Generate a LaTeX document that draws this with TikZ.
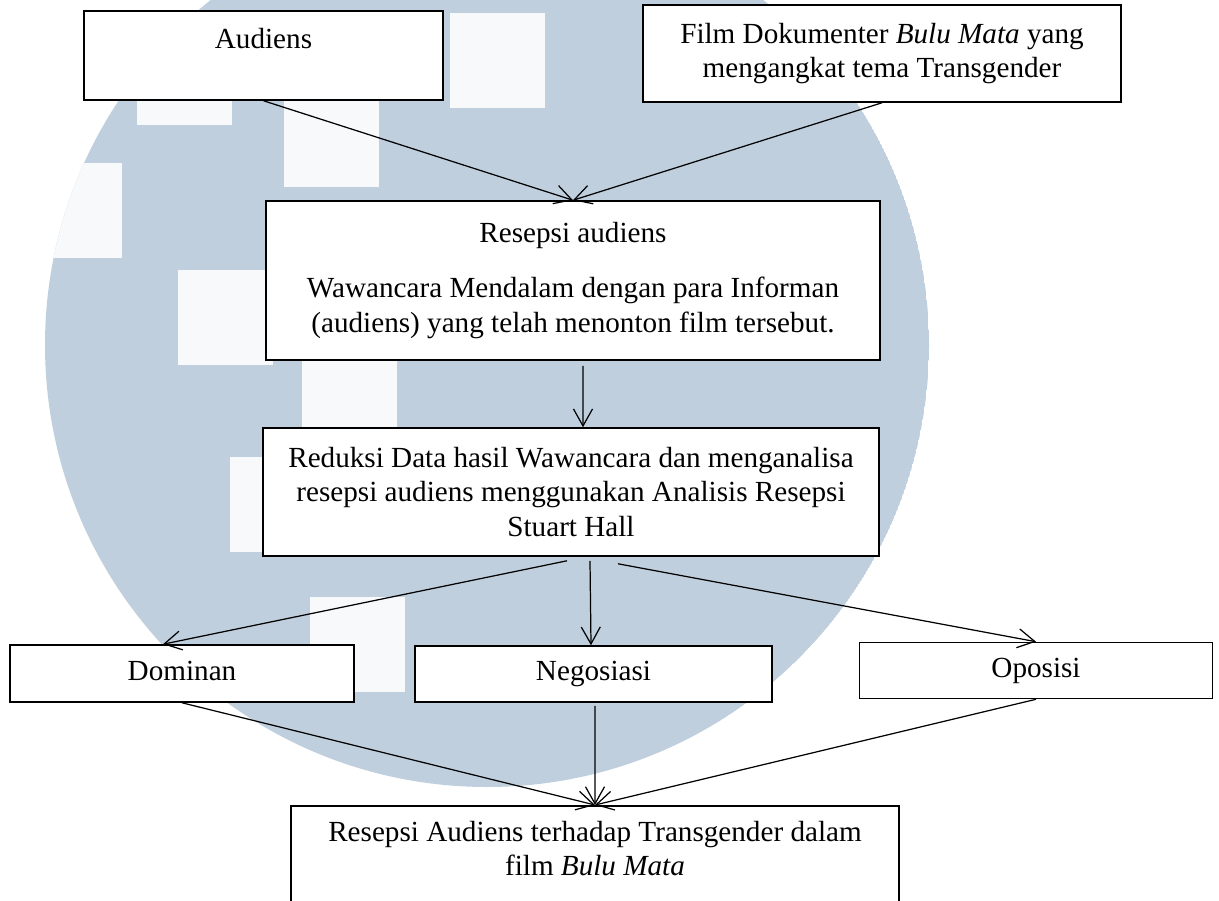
\documentclass[tikz,border=0pt]{standalone}
\usepackage{fontspec}
\setmainfont{Liberation Serif}
\usetikzlibrary{shapes, arrows.meta}
\definecolor{wmblue}{RGB}{192,207,221}
\definecolor{wmwhite}{RGB}{247,249,251}

\begin{document}
\begin{tikzpicture}[x=0.02cm, y=-0.02cm,
        box/.style = {draw, fill=white, line width=0.9pt, align=center, inner sep=0pt, font=\fontsize{16.6}{19.6}\selectfont},
        arr/.style = {-{Straight Barb[length=0.34cm, width=0.38cm]}, line width=0.7pt}]
                \useasboundingbox (0, 0) rectangle (1219, 901);
                \clip (0, 0) rectangle (1219, 901);
                \fill[white] (0, 0) rectangle (1219, 901);
                \begin{scope}
                    \clip (487, 345) circle [radius=442];
                    \fill[wmblue] (487, 345) circle [radius=442];
                    \foreach \x/\y in {27/163, 137/30, 284/92, 450/13, 178/270, 302/335, 230/457, 310/597}
                        \fill[wmwhite] (\x, \y) rectangle ++(95, 95);
                \end{scope}

                \node[box, minimum width=7.18cm, minimum height=1.78cm] at (263.5, 55.5) (aud) {Audiens\\ ~};
                \node[box, minimum width=9.56cm, minimum height=1.94cm] at (882, 53.5) (film) {Film Dokumenter \textit{Bulu Mata} yang\\ mengangkat tema Transgender};
                \node[box, minimum width=12.28cm, minimum height=3.18cm] at (573, 280.5) (res) {Resepsi audiens\\[0.41cm] Wawancara Mendalam dengan para Informan\\ (audiens) yang telah menonton film tersebut.};
                \node[box, minimum width=12.32cm, minimum height=2.56cm] at (571, 492) (red) {Reduksi Data hasil Wawancara dan menganalisa\\ resepsi audiens menggunakan Analisis Resepsi\\ Stuart Hall};
                \node[box, minimum width=6.88cm, minimum height=1.14cm] at (182, 673.5) (dom) {\strut Dominan};
                \node[box, minimum width=7.14cm, minimum height=1.12cm] at (593.5, 674) (neg) {\strut Negosiasi};
                \node[box, minimum width=7.06cm, minimum height=1.12cm] at (1036, 670.5) (opo) {\strut Oposisi};
                \node[box, minimum width=12.16cm, anchor=north, inner ysep=0.3cm, text depth=1.8cm] at (595, 805) (hasil) {Resepsi Audiens terhadap Transgender dalam\\ film \textit{Bulu Mata}};

                \draw[arr] (aud.south) -- (res.north);
                \draw[arr] (film.south) -- (res.north);
                \draw[arr] ([xshift=0.2cm, yshift=-0.1cm]res.south) -- ([xshift=0.24cm]red.north);

                \draw[arr] ([xshift=-0.08cm, yshift=-0.08cm]red.south) -- ([xshift=-0.38cm]dom.north);
                \draw[arr] ([xshift=0.38cm, yshift=-0.08cm]red.south) -- ([xshift=-0.05cm]neg.north);
                \draw[arr] ([xshift=0.94cm, yshift=-0.14cm]red.south) -- (opo.north);

                \draw[arr] (dom.south) -- (hasil.north);
                \draw[arr] ([xshift=0.03cm, yshift=-0.06cm]neg.south) -- (hasil.north);
                \draw[arr] (opo.south) -- (hasil.north);
            \end{tikzpicture}
\end{document}
